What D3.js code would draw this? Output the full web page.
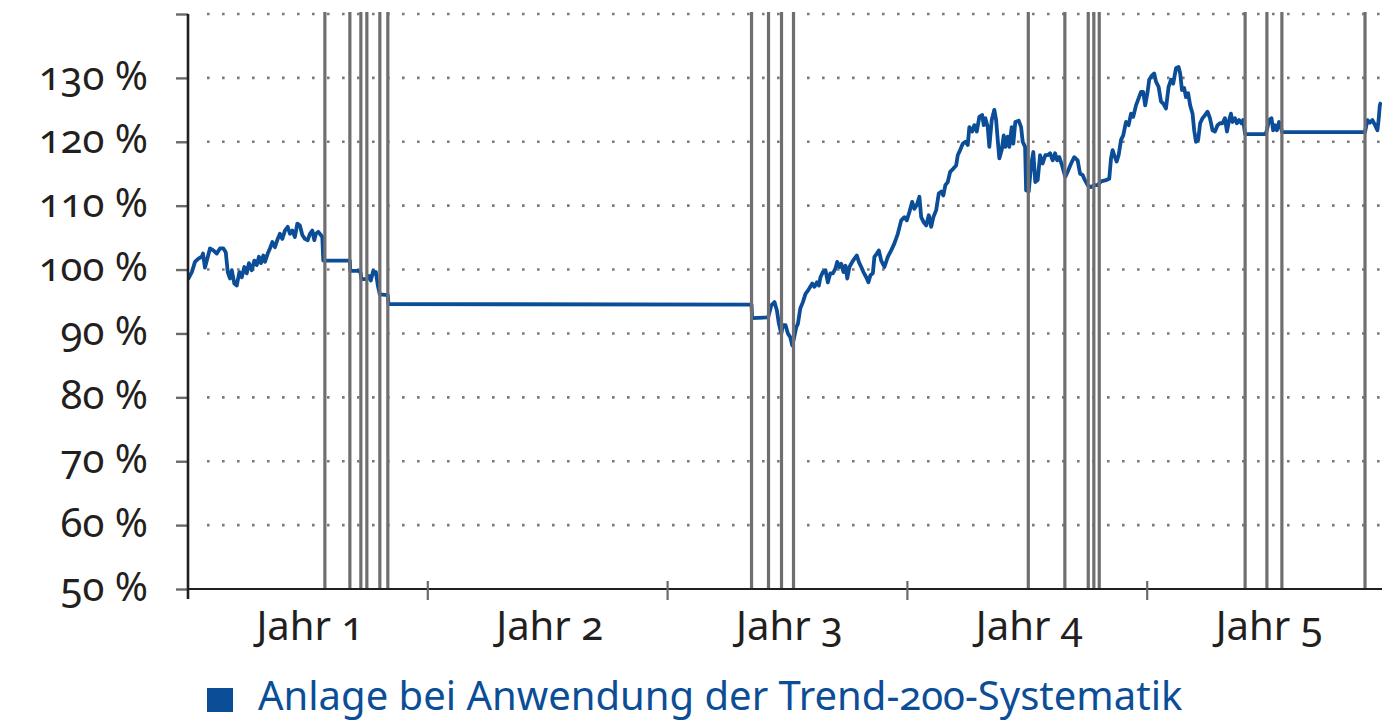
<!DOCTYPE html>
<html>
<head>
<meta charset="utf-8">
<script src="https://cdn.jsdelivr.net/npm/d3@7"></script>
<style>
  body { margin: 0; background: #fff; }
  svg text { font-family: "Noto Sans", "Open Sans", sans-serif; font-feature-settings: "onum"; font-variant-numeric: oldstyle-nums; }
</style>
</head>
<body>
<div id="chart-area"></div>
<script>
// Zeitachse in Monaten (0 bis 60 = 5 Jahre)
var jahre = ["Jahr 1", "Jahr 2", "Jahr 3", "Jahr 4", "Jahr 5"];
var yTicks = [50, 60, 70, 80, 90, 100, 110, 120, 130, 140];
var legende = "Anlage bei Anwendung der Trend-200-Systematik";

// Trend-200-Signale (Monat)
var signale = [6.85, 8.1, 8.65, 8.95, 9.6, 10.0, 28.2, 29.05, 29.7, 30.3,
    42.05, 43.88, 45.05, 45.33, 45.6, 52.9, 53.99, 54.74, 58.9];

// Wertentwicklung [Monat, Prozent]
var verlauf = [
    [0.0, 98.4], [0.02, 98.6], [0.19, 99.6], [0.35, 101.2], [0.52, 101.7], [0.69, 102.0], [0.75, 102.5],
    [0.85, 100.3], [1.1, 103.3], [1.27, 103.0], [1.44, 102.5], [1.6, 103.3], [1.77, 103.3],
    [1.89, 102.7], [1.99, 99.6], [2.1, 98.6], [2.19, 99.9], [2.32, 97.8], [2.44, 97.5],
    [2.57, 99.6], [2.69, 98.8], [2.82, 100.4], [2.94, 99.4], [3.05, 101.0], [3.19, 99.9],
    [3.32, 101.4], [3.44, 100.7], [3.55, 102.0], [3.65, 101.0], [3.77, 102.2], [3.85, 101.2],
    [3.99, 102.5], [4.1, 103.3], [4.22, 104.3], [4.35, 103.5], [4.49, 104.8], [4.6, 105.6],
    [4.72, 104.8], [4.85, 106.1], [4.99, 106.7], [5.1, 105.6], [5.22, 106.1], [5.35, 105.1],
    [5.47, 107.2], [5.6, 106.9], [5.72, 105.4], [5.85, 104.8], [5.99, 104.6], [6.1, 105.6],
    [6.22, 106.1], [6.32, 104.6], [6.4, 105.6], [6.52, 105.9], [6.65, 105.4], [6.72, 105.1],
    [6.77, 101.4], [6.85, 101.4], [8.1, 101.4], [8.12, 99.8], [8.5, 99.8], [8.63, 99.6],
    [8.68, 98.5], [8.95, 98.5], [9.05, 99.0], [9.15, 98.3], [9.27, 99.8], [9.35, 99.4],
    [9.4, 99.6], [9.5, 97.5], [9.6, 96.1], [10.0, 96.0], [10.03, 94.6], [28.2, 94.5],
    [28.23, 92.4], [29.03, 92.5], [29.19, 94.4], [29.35, 94.9], [29.47, 93.6], [29.57, 91.5],
    [29.69, 90.0], [29.77, 91.3], [29.9, 91.3], [30.02, 90.0], [30.14, 89.4], [30.24, 88.1],
    [30.32, 89.2], [30.44, 91.0], [30.52, 91.5], [30.64, 93.9], [30.77, 94.9], [30.9, 96.2],
    [31.02, 96.7], [31.14, 97.3], [31.24, 97.8], [31.35, 97.3], [31.47, 98.0], [31.57, 97.5],
    [31.65, 98.8], [31.77, 99.6], [31.9, 99.9], [32.02, 98.0], [32.14, 99.4], [32.27, 99.4],
    [32.39, 100.1], [32.49, 101.2], [32.6, 100.4], [32.69, 100.9], [32.8, 99.6], [32.9, 100.6],
    [32.99, 98.6], [33.1, 100.4], [33.24, 101.2], [33.35, 101.7], [33.47, 102.2], [33.57, 101.2],
    [33.69, 100.4], [33.8, 99.6], [33.94, 98.8], [34.05, 98.0], [34.15, 99.1], [34.27, 99.4],
    [34.35, 102.0], [34.47, 102.5], [34.57, 103.0], [34.69, 101.4], [34.85, 100.4], [35.02, 102.0],
    [35.19, 103.0], [35.35, 104.1], [35.52, 105.6], [35.69, 107.7], [35.85, 108.2], [35.97, 107.7],
    [36.1, 109.0], [36.24, 110.6], [36.35, 109.5], [36.47, 110.1], [36.6, 111.4], [36.69, 108.2],
    [36.82, 107.4], [36.94, 106.9], [37.07, 108.5], [37.19, 106.7], [37.3, 108.2], [37.44, 109.3],
    [37.57, 111.9], [37.69, 112.2], [37.8, 111.6], [37.9, 113.2], [38.02, 113.7], [38.14, 115.3],
    [38.3, 115.8], [38.44, 116.3], [38.52, 117.9], [38.64, 118.7], [38.77, 119.7], [38.9, 120.0],
    [39.02, 119.5], [39.1, 122.3], [39.24, 121.6], [39.35, 122.6], [39.47, 121.6], [39.6, 123.9],
    [39.74, 124.2], [39.82, 122.6], [39.9, 123.7], [40.02, 122.3], [40.1, 119.2], [40.22, 123.4],
    [40.35, 125.0], [40.44, 123.4], [40.52, 120.3], [40.6, 117.4], [40.72, 118.7], [40.82, 121.0],
    [40.9, 119.2], [41.02, 120.8], [41.1, 119.2], [41.22, 122.3], [41.3, 119.7], [41.4, 123.1],
    [41.57, 123.3], [41.69, 122.3], [41.77, 120.0], [41.89, 119.2], [41.94, 112.4], [42.07, 112.2],
    [42.19, 116.3], [42.3, 118.4], [42.4, 113.7], [42.52, 114.0], [42.64, 117.9], [42.77, 116.6],
    [42.9, 117.9], [43.02, 117.9], [43.14, 118.2], [43.27, 117.1], [43.39, 118.2], [43.49, 117.1],
    [43.6, 117.6], [43.74, 116.3], [43.9, 114.5], [44.02, 115.3], [44.19, 116.6], [44.35, 117.6],
    [44.52, 117.1], [44.64, 115.0], [44.77, 114.8], [44.85, 114.2], [45.02, 113.2], [45.19, 112.9],
    [45.35, 113.2], [45.52, 113.2], [45.69, 113.8], [45.94, 114.0], [46.1, 114.2], [46.19, 117.4],
    [46.27, 118.7], [46.35, 117.9], [46.47, 116.9], [46.57, 117.9], [46.69, 120.3], [46.8, 121.0],
    [46.94, 123.1], [47.07, 122.6], [47.19, 124.4], [47.3, 123.9], [47.44, 125.7], [47.57, 126.8],
    [47.69, 127.8], [47.8, 127.8], [47.9, 125.7], [48.02, 127.8], [48.1, 129.7], [48.24, 130.4],
    [48.35, 130.7], [48.44, 129.4], [48.57, 128.6], [48.69, 126.3], [48.8, 126.0], [48.94, 125.2],
    [49.07, 128.6], [49.19, 129.7], [49.3, 129.1], [49.44, 131.5], [49.57, 131.7], [49.65, 130.7],
    [49.74, 128.1], [49.85, 128.4], [49.94, 127.0], [50.05, 127.6], [50.15, 125.7], [50.27, 124.4],
    [50.35, 121.8], [50.44, 120.0], [50.55, 120.3], [50.65, 122.9], [50.77, 123.7], [50.9, 124.2],
    [51.02, 124.7], [51.14, 123.7], [51.27, 121.8], [51.39, 121.6], [51.52, 122.6], [51.64, 122.9],
    [51.77, 122.9], [51.89, 123.7], [51.99, 121.6], [52.1, 123.4], [52.19, 124.4], [52.27, 123.1],
    [52.39, 123.7], [52.49, 122.9], [52.6, 123.4], [52.72, 122.9], [52.8, 123.4], [52.9, 121.2],
    [53.93, 121.2], [53.97, 121.6], [54.1, 123.4], [54.22, 123.7], [54.3, 121.8], [54.4, 122.6],
    [54.49, 121.8], [54.6, 123.1], [54.69, 122.3], [54.75, 121.5], [58.9, 121.5], [59.02, 123.4],
    [59.14, 123.0], [59.27, 123.4], [59.4, 122.6], [59.52, 121.8], [59.58, 123.4], [59.64, 125.7],
    [59.7, 126.2]
];

var W = 1392, H = 722;
var mLeft = 188, mRight = 1382, mTop = 14, mBottom = 589;

var svg = d3.select("#chart-area")
  .append("svg")
    .attr("width", W)
    .attr("height", H);

var x = d3.scaleLinear()
    .domain([0, 60])
    .range([mLeft, 1387]);

var y = d3.scaleLinear()
    .domain([50, 140])
    .range([mBottom, mTop]);

svg.append("defs").append("clipPath")
    .attr("id", "plot")
  .append("rect")
    .attr("x", mLeft)
    .attr("y", 0)
    .attr("width", mRight - mLeft)
    .attr("height", H);

// gepunktetes Raster
svg.append("g")
    .selectAll("line")
    .data(yTicks.filter((d) => d > 50))
    .enter().append("line")
        .attr("x1", mLeft + 19)
        .attr("x2", mRight)
        .attr("y1", (d) => y(d))
        .attr("y2", (d) => y(d))
        .attr("stroke", "#7b7b7b")
        .attr("stroke-width", 2.6)
        .attr("stroke-dasharray", "2.6 12.4");

// y-Achse
var yAxisCall = d3.axisLeft(y)
    .tickValues(yTicks)
    .tickSize(12)
    .tickPadding(28)
    .tickFormat((d) => d < 140 ? d + " %" : "");

var yAxis = svg.append("g")
    .attr("class", "left axis")
    .attr("transform", "translate(" + mLeft + ", 0)")
    .call(yAxisCall);
yAxis.select(".domain").remove();
yAxis.selectAll("line")
    .attr("stroke", "#6a6a6a")
    .attr("stroke-width", 2.4);
yAxis.selectAll("text")
    .attr("font-size", "40px")
    .attr("font-family", null)
    .attr("fill", "#231f20")
    .attr("dy", "0.28em");

// Wertentwicklung
var line = d3.line()
    .x((d) => x(d[0]))
    .y((d) => y(d[1]));

svg.append("path")
    .datum(verlauf)
    .attr("clip-path", "url(#plot)")
    .attr("fill", "none")
    .attr("stroke", "#0b4d97")
    .attr("stroke-width", 3.8)
    .attr("stroke-linejoin", "round")
    .attr("d", line);

// Signallinien
svg.append("g")
    .selectAll("line")
    .data(signale)
    .enter().append("line")
        .attr("x1", (d) => x(d))
        .attr("x2", (d) => x(d))
        .attr("y1", y(140) - 2)
        .attr("y2", mBottom)
        .attr("stroke", "#6f6f72")
        .attr("stroke-width", 3.2);

// Achsenlinien
svg.append("line")
    .attr("x1", mLeft).attr("x2", mRight)
    .attr("y1", mBottom).attr("y2", mBottom)
    .attr("stroke", "#231f20")
    .attr("stroke-width", 2.2);

svg.append("line")
    .attr("x1", mLeft).attr("x2", mLeft)
    .attr("y1", y(140)).attr("y2", mBottom + 10)
    .attr("stroke", "#231f20")
    .attr("stroke-width", 2.6);

// Jahresgrenzen
svg.append("g")
    .selectAll("line")
    .data([12, 24, 36, 48])
    .enter().append("line")
        .attr("x1", (d) => x(d))
        .attr("x2", (d) => x(d))
        .attr("y1", mBottom - 8)
        .attr("y2", mBottom + 11)
        .attr("stroke", "#6a6a6a")
        .attr("stroke-width", 2.2);

svg.append("g")
    .selectAll("text")
    .data(jahre)
    .enter().append("text")
        .attr("x", (d, i) => x(i * 12 + 6) + 2)
        .attr("y", mBottom + 51)
        .attr("text-anchor", "middle")
        .attr("font-size", "40px")
        .attr("fill", "#231f20")
        .text((d) => d);

// Legende
svg.append("rect")
    .attr("x", 207)
    .attr("y", 688)
    .attr("width", 26)
    .attr("height", 24)
    .attr("fill", "#0b4d97");

svg.append("text")
    .attr("x", 258)
    .attr("y", 710)
    .attr("font-size", "40px")
    .attr("fill", "#0b4d97")
    .text(legende);
</script>
</body>
</html>
